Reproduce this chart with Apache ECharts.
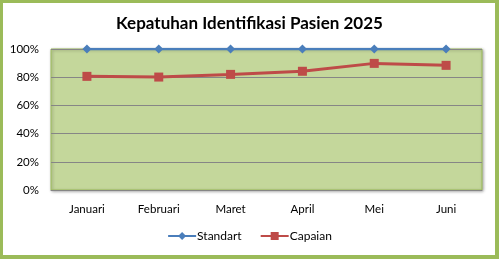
<!DOCTYPE html>
<html><head><meta charset="utf-8">
<script src="https://cdn.jsdelivr.net/npm/echarts@6/dist/echarts.min.js"></script>
<style>
html,body{margin:0;padding:0;background:#fff;}
#c{position:absolute;left:0;top:0;width:499px;height:259px;}
#f{position:absolute;left:0;top:0;width:499px;height:259px;box-sizing:border-box;border-style:solid;border-color:#9bbb59;border-width:3px 4px 4px 3px;pointer-events:none;}
</style></head>
<body><div id="c"></div><div id="f"></div>
<script>
const categories = ['Januari','Februari','Maret','April','Mei','Juni'];
const standart = [100,100,100,100,100,100];
const capaian = [80.6,80.1,82.0,84.2,89.8,88.4];
const yTicks = [0,20,40,60,80,100];
const titleText = 'Kepatuhan Identifikasi Pasien 2025';
const font = 'Lato, "Open Sans", sans-serif';
const chart = echarts.init(document.getElementById('c'));
chart.setOption({
  animation:false,
  backgroundColor:'#fff',
  title:{text:titleText,left:'center',top:10,textStyle:{fontFamily:font,fontSize:17,fontWeight:'bold',color:'#000'}},
  grid:{left:51,right:17,top:49,bottom:69,show:true,backgroundColor:'#c4d79b',borderColor:'#9bbb59',borderWidth:1,shadowColor:'rgba(0,0,0,0.35)',shadowBlur:3,shadowOffsetX:1,shadowOffsetY:1},
  legend:{bottom:12,left:'center',itemWidth:28,itemHeight:10,itemGap:18,textStyle:{fontFamily:font,fontSize:12,color:'#000',padding:[0,0,0,-4]},data:['Standart','Capaian']},
  xAxis:{type:'category',data:categories,boundaryGap:true,axisTick:{show:false},axisLine:{show:true,lineStyle:{color:'#868686',width:1}},axisLabel:{fontFamily:font,fontSize:11.5,color:'#000',margin:13}},
  yAxis:{type:'value',min:0,max:100,interval:20,axisLine:{show:false},axisTick:{show:false},splitLine:{lineStyle:{color:'#868686',width:1}},axisLabel:{fontFamily:font,fontSize:11.5,color:'#000',margin:12,formatter:v=>yTicks.includes(v)?v+'%':''}},
  series:[
    {name:'Standart',type:'line',data:standart,symbol:'diamond',symbolSize:9,lineStyle:{color:'#4a7ebb',width:2.5},itemStyle:{color:'#4a7ebb'}},
    {name:'Capaian',type:'line',data:capaian,symbol:'rect',symbolSize:9,lineStyle:{color:'#be4b48',width:3},itemStyle:{color:'#be4b48'}}
  ]
});
</script></body></html>
